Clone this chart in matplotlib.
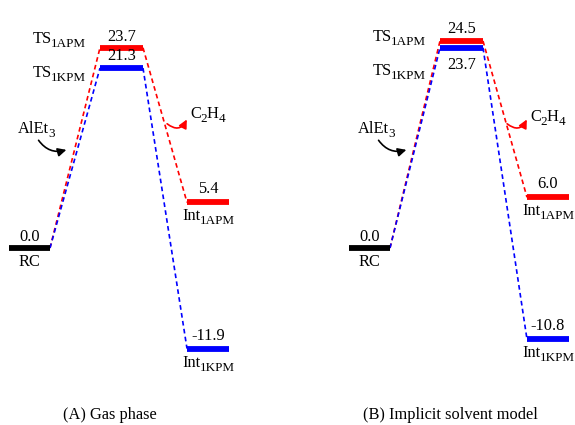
import matplotlib
matplotlib.use('Agg')
import matplotlib.pyplot as plt
from matplotlib.patches import FancyArrowPatch

plt.rcParams['font.family'] = 'Liberation Serif'

# relative energies (kcal/mol), order: APM path, KPM path
rc_energy = 0.0
gas_ts = [23.7, 21.3]
gas_int = [5.4, -11.9]
sol_ts = [24.5, 23.7]
sol_int = [6.0, -10.8]
path_colors = ['#ff0000', '#0000ff']
ts_names = [('TS', '1APM'), ('TS', '1KPM')]
int_names = [('Int', '1APM'), ('Int', '1KPM')]
captions = ['(A) Gas phase', '(B) Implicit solvent model']

# layout (x in pixels of the picture, y in kcal/mol)
W, H = 575, 425
zero_px, scale = 248, 8.45
fs = 11.8
sub_fs = fs * 0.8

fig = plt.figure(figsize=(W / 100, H / 100), dpi=100)
ax = fig.add_axes([0, 0, 1, 1])
ax.set_xlim(0, W)
ax.set_ylim(-(H - zero_px) / scale, zero_px / scale)
ax.axis('off')
renderer = fig.canvas.get_renderer()


def text_width(s, size):
    t = fig.text(0, 0, s, fontsize=size)
    w = t.get_window_extent(renderer).width
    t.remove()
    return w


def level(x0, x1, e, color):
    ax.plot([x0, x1], [e, e], color=color, lw=4.2, solid_capstyle='butt')


def label(x, e, s, dy):
    ax.annotate(s, (x, e), xytext=(0, dy), textcoords='offset pixels',
                ha='center', va='center', fontsize=fs)


def sub_label(x, y, main, sub, ha='left'):
    # x, y in figure pixels (y = baseline, from bottom)
    w1, w2 = text_width(main, fs) - 0.5, text_width(sub, sub_fs)
    x0 = {'left': x, 'right': x - w1 - w2, 'center': x - (w1 + w2) / 2}[ha]
    fig.text(x0 / W, y / H, main, fontsize=fs, va='baseline')
    fig.text((x0 + w1) / W, (y - 4) / H, sub, fontsize=sub_fs, va='baseline')


def level_sub_label(x, e, name, dy, ha):
    y = ax.transData.transform((x, e))[1] + dy
    sub_label(x, y, name[0], name[1], ha)


def curved_arrow(p0, p1, color, rad):
    # decorative arrows, given in picture pixels
    a = FancyArrowPatch((p0[0], H - p0[1]), (p1[0], H - p1[1]),
                        transform=None, connectionstyle='arc3,rad=%s' % rad,
                        arrowstyle='-|>,head_length=5,head_width=2.5',
                        color=color, lw=1.2)
    fig.patches.append(a)


panels = [(0, gas_ts, gas_int), (340, sol_ts, sol_int)]
# label offsets per panel (pixels)
ts_val_dy = [[11, 12], [12, -17]]
ts_name_dy = [[5, -9], [0, -27]]
c2h4_y = [118, 121]

for p, (off, ts, ints) in enumerate(panels):
    rc_x = (off + 9, off + 50)
    ts_x = (off + 100, off + 143)
    int_x = (off + 187, off + 229)

    # dashed connectors
    for k in range(2):
        ax.plot([rc_x[1], ts_x[0]], [rc_energy, ts[k]], color=path_colors[k],
                lw=1.2, dashes=(2.8, 2.0))
        ax.plot([ts_x[1], int_x[0]], [ts[k], ints[k]], color=path_colors[k],
                lw=1.2, dashes=(2.8, 2.0))

    level(*rc_x, rc_energy, 'black')
    label(sum(rc_x) / 2, rc_energy, '%.1f' % rc_energy, 11)
    label(sum(rc_x) / 2, rc_energy, 'RC', -14)

    for k in [1, 0]:
        level(*ts_x, ts[k], path_colors[k])
        label(sum(ts_x) / 2, ts[k], '%.1f' % ts[k], ts_val_dy[p][k])
        level_sub_label(ts_x[0] - 14, ts[k], ts_names[k], ts_name_dy[p][k],
                        'right')

        level(*int_x, ints[k], path_colors[k])
        label(sum(int_x) / 2, ints[k], '%.1f' % ints[k], 13)
        level_sub_label(int_x[0] - 5, ints[k], int_names[k], -18, 'left')

    # reactant / product annotations
    sub_label(off + 18, H - 133, 'AlEt', '3')
    curved_arrow((off + 37, 138), (off + 69, 149), 'black', 0.4)
    w = text_width('C', fs) - 0.5 + text_width('2', sub_fs)
    sub_label(off + 190, H - c2h4_y[p], 'C', '2')
    sub_label(off + 190 + w, H - c2h4_y[p], 'H', '4')
    curved_arrow((off + 165, 122), (off + 188, 117), '#ff0000', 0.7)

    fig.text((off + 110) / W, 1 - 415 / H, captions[p], fontsize=fs,
             ha='center', va='center')

fig.savefig('out.png', dpi=100)
